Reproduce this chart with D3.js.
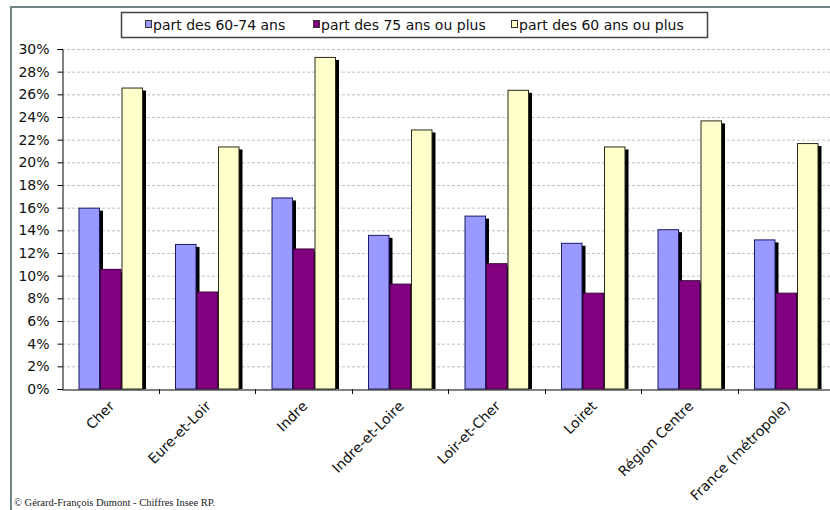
<!DOCTYPE html>
<html>
<head>
<meta charset="utf-8">
<script src="https://cdn.jsdelivr.net/npm/d3@7"></script>
<style>
  html, body { margin: 0; padding: 0; background: #fff; }
  svg { display: block; }
</style>
</head>
<body>
<svg id="chart" width="830" height="510"></svg>
<script>
// Categories (départements of the Centre region plus reference areas)
const categories = ["Cher", "Eure-et-Loir", "Indre", "Indre-et-Loire", "Loir-et-Cher", "Loiret", "Région Centre", "France (métropole)"];
const seriesNames = ["part des 60-74 ans", "part des 75 ans ou plus", "part des 60 ans ou plus"];
// Shares in percent
const part6074 = [16.0, 12.8, 16.9, 13.6, 15.3, 12.9, 14.1, 13.2];
const part75plus = [10.6, 8.6, 12.4, 9.3, 11.1, 8.5, 9.6, 8.5];
const part60plus = [26.6, 21.4, 29.3, 22.9, 26.4, 21.4, 23.7, 21.7];
const yTicks = [0, 2, 4, 6, 8, 10, 12, 14, 16, 18, 20, 22, 24, 26, 28, 30];
const footer = "© Gérard-François Dumont - Chiffres Insee RP.";

const seriesValues = [part6074, part75plus, part60plus];
const colors = ["#9999ff", "#800080", "#ffffcc"];
const strokes = ["#1a1a66", "#3a003a", "#2b2b1a"];

const svg = d3.select("#chart");
const font = "'DejaVu Sans', Verdana, sans-serif";

// Outer frame
svg.append("path")
  .attr("d", "M11,515 L11,7 L835,7")
  .attr("fill", "none")
  .attr("stroke", "#6f8585")
  .attr("stroke-width", 2);

const plot = { left: 62, right: 834, top: 49, bottom: 389 };

const x = d3.scaleBand().domain(categories).range([plot.left, plot.right]).padding(0);
const xs = d3.scaleBand().domain(d3.range(3)).range([16.5, 81]).padding(0);
const y = d3.scaleLinear().domain([0, 30]).range([plot.bottom, plot.top]);

// Grid lines
svg.append("g")
  .selectAll("line")
  .data(yTicks.filter(d => d > 0))
  .join("line")
  .attr("x1", plot.left)
  .attr("x2", plot.right)
  .attr("y1", d => y(d) + 0.5)
  .attr("y2", d => y(d) + 0.5)
  .attr("stroke", "#c0c0c0")
  .attr("stroke-width", 1)
  .attr("stroke-dasharray", "3,2");

// Bars, each with a dark drop shadow
const groups = svg.append("g")
  .selectAll("g")
  .data(categories)
  .join("g")
  .attr("transform", d => `translate(${x(d)},0)`);

groups.each(function(cat, ci) {
  const g = d3.select(this);
  seriesValues.forEach((vals, si) => {
    const v = vals[ci];
    const bx = xs(si);
    const bw = xs.bandwidth();
    g.append("rect")
      .attr("x", bx + 3)
      .attr("y", y(v) + 3)
      .attr("width", bw)
      .attr("height", y(0) - y(v) - 3)
      .attr("fill", "#000");
    g.append("rect")
      .attr("x", bx + 0.5)
      .attr("y", y(v) + 0.5)
      .attr("width", bw - 1)
      .attr("height", y(0) - y(v) - 0.5)
      .attr("fill", colors[si])
      .attr("stroke", strokes[si])
      .attr("stroke-width", 1);
  });
});

// Y axis
const yAxis = d3.axisLeft(y)
  .tickValues(yTicks)
  .tickFormat(d => d + "%")
  .tickSize(5)
  .tickPadding(8);
const yg = svg.append("g")
  .attr("transform", `translate(${plot.left + 0.5},0)`)
  .call(yAxis);
yg.select(".domain").attr("stroke", "#000");
yg.selectAll(".tick line").attr("stroke", "#000");
yg.selectAll("text")
  .attr("font-family", font)
  .attr("font-size", 14)
  .attr("fill", "#111");

// X axis
const xAxis = d3.axisBottom(x).tickSize(0).tickFormat("");
const xg = svg.append("g")
  .attr("transform", `translate(0,${plot.bottom + 0.5})`)
  .call(xAxis);
xg.select(".domain").attr("stroke", "#000");
xg.selectAll(".tick").remove();

// Category boundary ticks
svg.append("g")
  .selectAll("line")
  .data(categories)
  .join("line")
  .attr("x1", d => Math.round(x(d) + x.bandwidth()) + 0.5)
  .attr("x2", d => Math.round(x(d) + x.bandwidth()) + 0.5)
  .attr("y1", plot.bottom)
  .attr("y2", plot.bottom + 5)
  .attr("stroke", "#000");

// Rotated category labels
svg.append("g")
  .selectAll("text")
  .data(categories)
  .join("text")
  .attr("transform", d => `translate(${x(d) + x.bandwidth() / 2 + 5},${plot.bottom + 18}) rotate(-45)`)
  .attr("text-anchor", "end")
  .attr("font-family", font)
  .attr("font-size", 14)
  .attr("fill", "#111")
  .text(d => d);

// Legend
const legend = svg.append("g");
legend.append("rect")
  .attr("x", 121.5)
  .attr("y", 12.5)
  .attr("width", 586)
  .attr("height", 25)
  .attr("fill", "#fff")
  .attr("stroke", "#444")
  .attr("stroke-width", 1.5);
const legendX = [145, 313, 511];
seriesNames.forEach((name, i) => {
  legend.append("rect")
    .attr("x", legendX[i] + 0.5)
    .attr("y", 20.5)
    .attr("width", 6)
    .attr("height", 7)
    .attr("fill", colors[i])
    .attr("stroke", "#333")
    .attr("stroke-width", 1);
  legend.append("text")
    .attr("x", legendX[i] + 8)
    .attr("y", 30)
    .attr("font-family", font)
    .attr("font-size", 14)
    .attr("fill", "#111")
    .text(name);
});

// Source line
svg.append("text")
  .attr("x", 14)
  .attr("y", 506)
  .attr("font-family", "'Liberation Serif', 'Times New Roman', serif")
  .attr("font-size", 10.5)
  .attr("fill", "#222")
  .text(footer);
</script>
</body>
</html>
